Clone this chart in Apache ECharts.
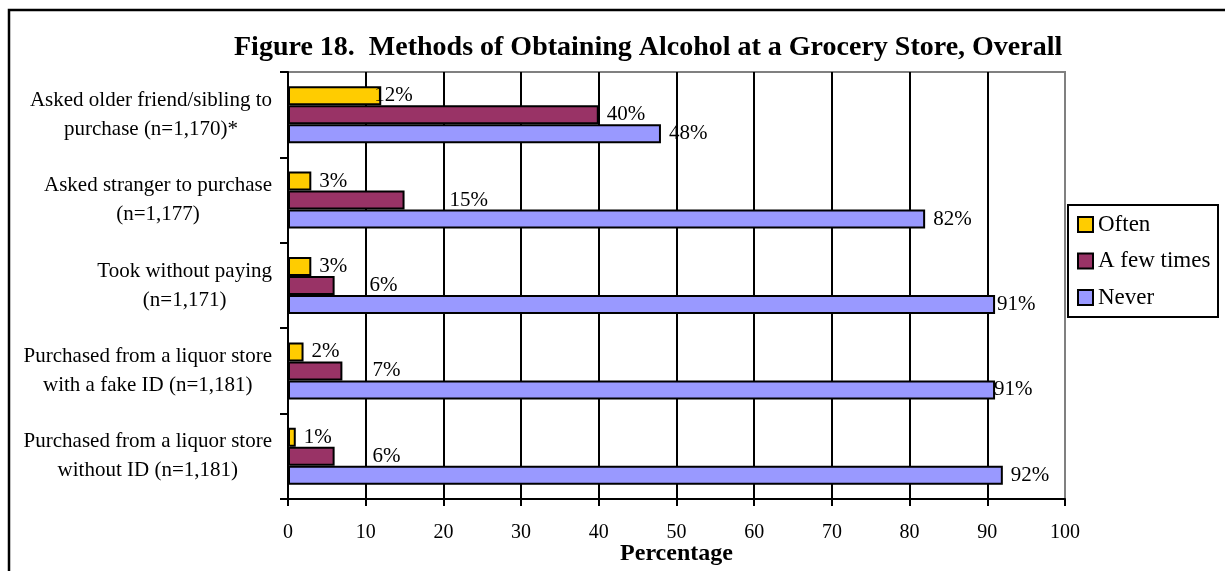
<!DOCTYPE html>
<html>
<head>
<meta charset="utf-8">
<script src="https://cdn.jsdelivr.net/npm/echarts@6/dist/echarts.min.js"></script>
<style>
  html, body { margin: 0; padding: 0; background: #fff; }
  #chart { width: 1225px; height: 571px; }
</style>
</head>
<body>
<div id="chart"></div>
<script>
const categories = [
  'Asked older friend/sibling to\npurchase (n=1,170)*',
  'Asked stranger to purchase\n(n=1,177)',
  'Took without paying\n(n=1,171)',
  'Purchased from a liquor store\nwith a fake ID (n=1,181)',
  'Purchased from a liquor store\nwithout ID (n=1,181)'
];
const often = [12, 3, 3, 2, 1];
const fewTimes = [40, 15, 6, 7, 6];
const never = [48, 82, 91, 91, 92];
const xTicks = [0, 10, 20, 30, 40, 50, 60, 70, 80, 90, 100];

// label nudges (px) so labels sit like the original
const oftenShift = [-15, 0, 0, 0, 0];
const fewShift = [0, 37, 27, 22, 30];
const neverShift = [0, 0, -6, -9, 0];

const serif = '"Liberation Serif", "Times New Roman", serif';

function withShift(vals, shift) {
  return vals.map((v, i) => ({ value: v, label: { offset: [shift[i], 0] } }));
}

const chart = echarts.init(document.getElementById('chart'));

function barSeries(name, vals, shift, color) {
  return {
    name: name,
    type: 'bar',
    data: withShift(vals, shift),
    barWidth: 19,
    barGap: '0%',
    itemStyle: { color: color, borderColor: '#000', borderWidth: 2 },
    label: {
      show: true,
      position: 'right',
      distance: 8,
      formatter: '{c}%',
      color: '#000',
      fontFamily: serif,
      fontSize: 21
    }
  };
}

chart.setOption({
  animation: false,
  backgroundColor: '#fff',
  textStyle: { fontFamily: serif },
  title: {
    text: 'Figure 18.  Methods of Obtaining Alcohol at a Grocery Store, Overall',
    left: 229,
    top: 29,
    textStyle: { fontFamily: serif, fontSize: 28, fontWeight: 'bold', color: '#000' }
  },
  graphic: [
    {
      type: 'rect',
      shape: { x: 9, y: 10, width: 1400, height: 800 },
      style: { fill: null, stroke: '#000', lineWidth: 2.5 },
      silent: true
    },
    {
      type: 'rect',
      shape: { x: 1068, y: 205, width: 150, height: 112 },
      style: { fill: '#fff', stroke: '#000', lineWidth: 2 },
      silent: true,
      z: -1
    }
  ],
  legend: {
    orient: 'vertical',
    left: 1077,
    top: 213,
    padding: 0,
    itemWidth: 15,
    itemHeight: 15,
    itemGap: 13.5,
    icon: 'rect',
    itemStyle: { borderColor: '#000', borderWidth: 2 },
    textStyle: { fontFamily: serif, fontSize: 23, color: '#000', lineHeight: 23 },
    data: ['Often', 'A few times', 'Never']
  },
  grid: {
    left: 288,
    right: 160,
    top: 72,
    bottom: 72,
    show: true,
    borderColor: '#808080',
    borderWidth: 2,
    containLabel: false,
    outerBoundsMode: 'none'
  },
  xAxis: {
    type: 'value',
    min: xTicks[0],
    max: xTicks[xTicks.length - 1],
    interval: 10,
    name: 'Percentage',
    nameLocation: 'middle',
    nameGap: 43,
    nameMoveOverlap: false,
    nameTextStyle: { fontFamily: serif, fontSize: 24, fontWeight: 'bold', color: '#000' },
    axisLine: { show: true, lineStyle: { color: '#000', width: 2 } },
    axisTick: { show: true, length: 7, lineStyle: { color: '#000', width: 2 } },
    axisLabel: { margin: 24, fontFamily: serif, fontSize: 20, color: '#000' },
    splitLine: { show: true, showMinLine: false, showMaxLine: false, lineStyle: { color: '#000', width: 2 } }
  },
  yAxis: {
    type: 'category',
    data: categories,
    inverse: true,
    axisLine: { show: true, lineStyle: { color: '#000', width: 2 } },
    axisTick: { show: true, length: 8, lineStyle: { color: '#000', width: 2 } },
    axisLabel: {
      margin: 16,
      color: '#000',
      formatter: v => v.split('\n').map(s => '{c|' + s + '}').join('\n'),
      rich: { c: { align: 'center', fontFamily: serif, fontSize: 21, lineHeight: 29, color: '#000' } }
    }
  },
  series: [
    barSeries('Often', often, oftenShift, '#FFCC00'),
    barSeries('A few times', fewTimes, fewShift, '#993366'),
    barSeries('Never', never, neverShift, '#9999FF')
  ]
});
</script>
</body>
</html>
